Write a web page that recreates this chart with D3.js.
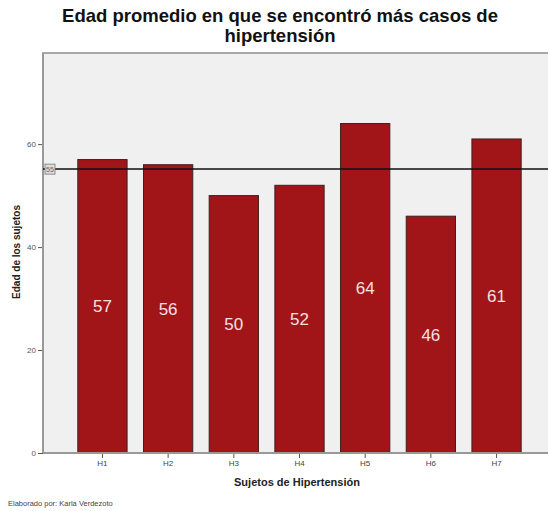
<!DOCTYPE html>
<html>
<head>
<meta charset="utf-8">
<script src="https://cdnjs.cloudflare.com/ajax/libs/d3/7.8.5/d3.min.js"></script>
<style>
  body { margin: 0; background: #fff; }
  svg { display: block; font-family: Arial, "Liberation Sans", sans-serif; }
</style>
</head>
<body>
<svg width="548" height="511"></svg>
<script>
// datos del grafico
var sujetos = ['H1', 'H2', 'H3', 'H4', 'H5', 'H6', 'H7'];
var edades = [57, 56, 50, 52, 64, 46, 61];
var yTicks = [0, 20, 40, 60];
var promedio = d3.mean(edades); // linea de referencia

var svg = d3.select('svg');

var plotLeft = 43, plotTop = 53, plotBottom = 453, plotRight = 556;

var scaleX = d3.scaleBand().domain(sujetos).range([plotLeft, plotRight])
    .paddingInner(0.25).paddingOuter(0.53);
var scaleY = d3.scaleLinear().domain([0, 77.7]).range([plotBottom, plotTop]);

// fondo del area
svg.append('rect')
    .attr('x', plotLeft).attr('y', plotTop)
    .attr('width', plotRight - plotLeft).attr('height', plotBottom - plotTop)
    .attr('fill', '#f0f0f0');
svg.append('path')
    .attr('d', 'M' + plotLeft + ',' + plotBottom + 'V' + plotTop + 'H' + plotRight)
    .attr('fill', 'none').attr('stroke', '#a8a8a8').attr('stroke-width', 2);

// titulo
svg.append('text').attr('x', 280).attr('y', 22).attr('text-anchor', 'middle')
    .style('font-size', '18.5px').style('font-weight', 'bold').attr('fill', '#111')
    .text('Edad promedio en que se encontró más casos de');
svg.append('text').attr('x', 280).attr('y', 42).attr('text-anchor', 'middle')
    .style('font-size', '18.5px').style('font-weight', 'bold').attr('fill', '#111')
    .text('hipertensión');

// barras
var g = svg.selectAll('.bar').data(edades).enter().append('g').attr('class', 'bar');
g.append('rect')
    .attr('x', function(d, i) { return scaleX(sujetos[i]); })
    .attr('y', function(d) { return scaleY(d); })
    .attr('width', scaleX.bandwidth())
    .attr('height', function(d) { return plotBottom - scaleY(d); })
    .attr('fill', '#a11519')
    .attr('stroke', '#3a2020').attr('stroke-width', 1);
g.append('text')
    .attr('x', function(d, i) { return scaleX(sujetos[i]) + scaleX.bandwidth() / 2; })
    .attr('y', function(d) { return (scaleY(d) + plotBottom) / 2; })
    .attr('dy', '0.35em')
    .attr('text-anchor', 'middle')
    .style('font-size', '17px')
    .attr('fill', '#f3e2e2')
    .text(function(d) { return d; });

// eje y
var yAxis = svg.append('g').attr('transform', 'translate(' + plotLeft + ',0)')
    .call(d3.axisLeft(scaleY).tickValues(yTicks).tickSize(5).tickPadding(2));
yAxis.select('.domain').remove();
yAxis.selectAll('line').attr('stroke', '#555');
yAxis.selectAll('text').attr('fill', '#555').style('font-size', '8px');
svg.append('line').attr('x1', plotLeft).attr('x2', plotLeft).attr('y1', plotTop).attr('y2', plotBottom)
    .attr('stroke', '#999').attr('stroke-width', 2);

// eje x
var xAxis = svg.append('g').attr('transform', 'translate(0,' + plotBottom + ')')
    .call(d3.axisBottom(scaleX).tickSize(5).tickPadding(2));
xAxis.select('.domain').remove();
xAxis.selectAll('line').attr('stroke', '#555');
xAxis.selectAll('text').attr('fill', '#444').style('font-size', '8px');
svg.append('line').attr('x1', plotLeft).attr('x2', plotRight).attr('y1', plotBottom).attr('y2', plotBottom)
    .attr('stroke', '#999').attr('stroke-width', 2);

// linea del promedio
svg.append('line')
    .attr('x1', plotLeft).attr('x2', plotRight)
    .attr('y1', scaleY(promedio)).attr('y2', scaleY(promedio))
    .attr('stroke', '#111').attr('stroke-width', 1.5);
svg.append('rect')
    .attr('x', plotLeft + 2).attr('y', scaleY(promedio) - 5)
    .attr('width', 10).attr('height', 10)
    .attr('fill', '#ddd').attr('stroke', '#777').attr('stroke-width', 0.8);
svg.append('text')
    .attr('x', plotLeft + 7).attr('y', scaleY(promedio)).attr('dy', '0.35em')
    .attr('text-anchor', 'middle').style('font-size', '7px').attr('fill', '#666')
    .text(Math.round(promedio));

// titulos de ejes
svg.append('text').attr('x', 297).attr('y', 486).attr('text-anchor', 'middle')
    .style('font-size', '11px').style('font-weight', 'bold').attr('fill', '#222')
    .text('Sujetos de Hipertensión');
svg.append('text').attr('transform', 'translate(20,252) rotate(-90)')
    .attr('text-anchor', 'middle')
    .style('font-size', '10px').style('font-weight', 'bold').attr('fill', '#222')
    .text('Edad de los sujetos');

svg.append('text').attr('x', 8).attr('y', 506)
    .style('font-size', '7.5px').attr('fill', '#444')
    .text('Elaborado por: Karla Verdezoto');
</script>
</body>
</html>
